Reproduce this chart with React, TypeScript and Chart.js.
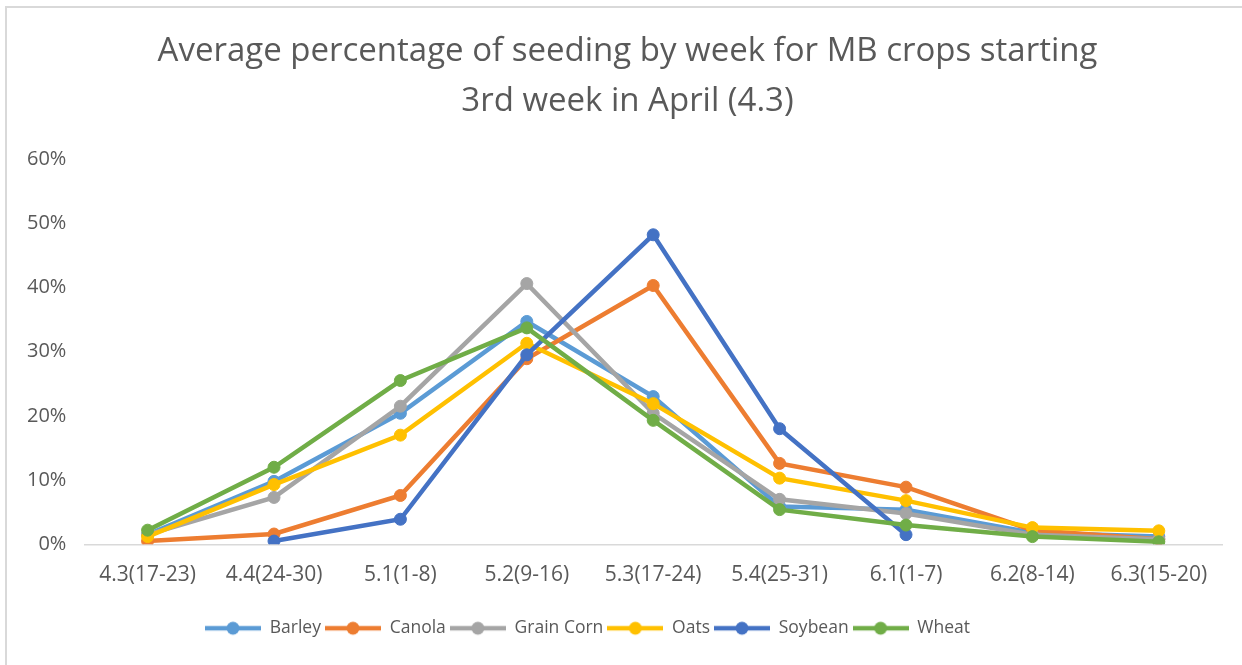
import React, { useEffect, useRef } from "react";
import { Chart, registerables } from "chart.js";

Chart.register(...registerables);

const categories = [
  "4.3(17-23)",
  "4.4(24-30)",
  "5.1(1-8)",
  "5.2(9-16)",
  "5.3(17-24)",
  "5.4(25-31)",
  "6.1(1-7)",
  "6.2(8-14)",
  "6.3(15-20)",
];

const barley = [1.5, 9.8, 20.4, 34.7, 23.0, 5.9, 5.4, 1.8, 1.2];
const canola = [0.5, 1.6, 7.6, 28.9, 40.3, 12.6, 8.9, 2.2, 0.8];
const grainCorn = [1.5, 7.3, 21.5, 40.6, 20.4, 7.0, 4.8, 1.5, 0.8];
const oats = [1.2, 9.3, 17.0, 31.3, 21.9, 10.3, 6.8, 2.6, 2.1];
const soybean = [null, 0.5, 3.9, 29.5, 48.2, 18.0, 1.5, null, null];
const wheat = [2.2, 12.0, 25.5, 33.7, 19.3, 5.4, 3.0, 1.2, 0.4];

const seriesNames = ["Barley", "Canola", "Grain Corn", "Oats", "Soybean", "Wheat"];
const seriesValues = [barley, canola, grainCorn, oats, soybean, wheat];
const seriesColors = ["#5B9BD5", "#ED7D31", "#A5A5A5", "#FFC000", "#4472C4", "#70AD47"];

const yTicks = [0, 10, 20, 30, 40, 50, 60];

const titleLines = [
  "Average percentage of seeding by week for MB crops starting",
  "3rd week in April (4.3)",
];

const FONT = "'Open Sans', 'DejaVu Sans', sans-serif";
const TEXT = "#595959";
const LEGEND_START_X = 205;
const TITLE_SHIFT = 12;
const MARKER_W = 56;

function makeMarker(color: string): HTMLCanvasElement {
  const c = document.createElement("canvas");
  c.width = MARKER_W;
  c.height = 16;
  const ctx = c.getContext("2d")!;
  ctx.strokeStyle = color;
  ctx.lineWidth = 4.5;
  ctx.beginPath();
  ctx.moveTo(0, 8);
  ctx.lineTo(MARKER_W, 8);
  ctx.stroke();
  ctx.fillStyle = color;
  ctx.beginPath();
  ctx.arc(MARKER_W / 2, 8, 6.5, 0, Math.PI * 2);
  ctx.fill();
  return c;
}

const shiftBoxes = {
  id: "shiftBoxes",
  afterLayout(chart: any) {
    const l = chart.legend;
    if (l && l.lineWidths) {
      const pad = l.options.labels.padding;
      const start = (l.left + pad + l.right - l.lineWidths[0]) / 2;
      const d = LEGEND_START_X - start;
      l.left += d;
      l.right += d;
    }
    const t = chart.titleBlock;
    if (t) {
      t.left += TITLE_SHIFT;
      t.right += TITLE_SHIFT;
    }
  },
};

export default function App() {
  const ref = useRef<HTMLCanvasElement | null>(null);

  useEffect(() => {
    document.body.style.margin = "0";
    const markers = seriesColors.map(makeMarker);
    const chart = new Chart(ref.current!, {
      type: "line",
      data: {
        labels: categories,
        datasets: seriesNames.map((name, i) => ({
          label: name,
          data: seriesValues[i],
          borderColor: seriesColors[i],
          backgroundColor: seriesColors[i],
          pointBackgroundColor: seriesColors[i],
          pointBorderColor: seriesColors[i],
          borderWidth: 4.5,
          pointRadius: 6,
          pointBorderWidth: 1,
          tension: 0,
          spanGaps: false,
          order: seriesNames.length - i,
        })),
      },
      options: {
        animation: false,
        responsive: false,
        layout: { padding: { left: 9, right: 20, top: 10, bottom: 18 } },
        plugins: {
          title: {
            display: true,
            text: titleLines,
            color: TEXT,
            font: { family: FONT, size: 33, weight: "normal", lineHeight: 1.515 },
            padding: { top: 17, bottom: 32 },
          },
          legend: {
            display: true,
            position: "bottom",
            labels: {
              usePointStyle: true,
              pointStyleWidth: MARKER_W,
              padding: 4,
              color: TEXT,
              font: { family: FONT, size: 17.5 },
              sort: (a: any, b: any) => a.datasetIndex - b.datasetIndex,
              generateLabels: (ch: any) =>
                (Chart.defaults.plugins.legend.labels.generateLabels as any)(ch).map((it: any) => ({
                  ...it,
                  pointStyle: markers[it.datasetIndex],
                })),
            },
          },
          tooltip: { enabled: false },
        },
        scales: {
          x: {
            offset: true,
            grid: { display: false, drawTicks: false },
            border: { display: true, color: "#d9d9d9", width: 1.5 },
            ticks: { color: TEXT, font: { family: FONT, size: 21 }, padding: 18, maxRotation: 0, autoSkip: false },
            afterFit: (scale: any) => {
              scale.height += 10;
              scale.paddingLeft = 0;
              scale.paddingRight = 0;
            },
          },
          y: {
            min: yTicks[0],
            max: yTicks[yTicks.length - 1],
            grid: { display: false, drawTicks: false },
            border: { display: false },
            afterBuildTicks: (scale: any) => {
              scale.ticks = yTicks.map((v) => ({ value: v }));
            },
            ticks: {
              color: TEXT,
              font: { family: FONT, size: 20 },
              padding: 18,
              callback: (v: any) => `${v}%`,
            },
          },
        },
      },
      plugins: [shiftBoxes],
    });
    return () => chart.destroy();
  }, []);

  return (
    <div style={{ position: "relative", width: 1242, height: 665, background: "#fff", overflow: "hidden" }}>
      <div
        style={{
          position: "absolute",
          left: 5,
          top: 6,
          right: -10,
          bottom: -10,
          borderLeft: "2px solid #d9d9d9",
          borderTop: "2px solid #d9d9d9",
        }}
      />
      <canvas ref={ref} width={1242} height={665} style={{ position: "absolute", left: 0, top: 0 }} />
    </div>
  );
}
